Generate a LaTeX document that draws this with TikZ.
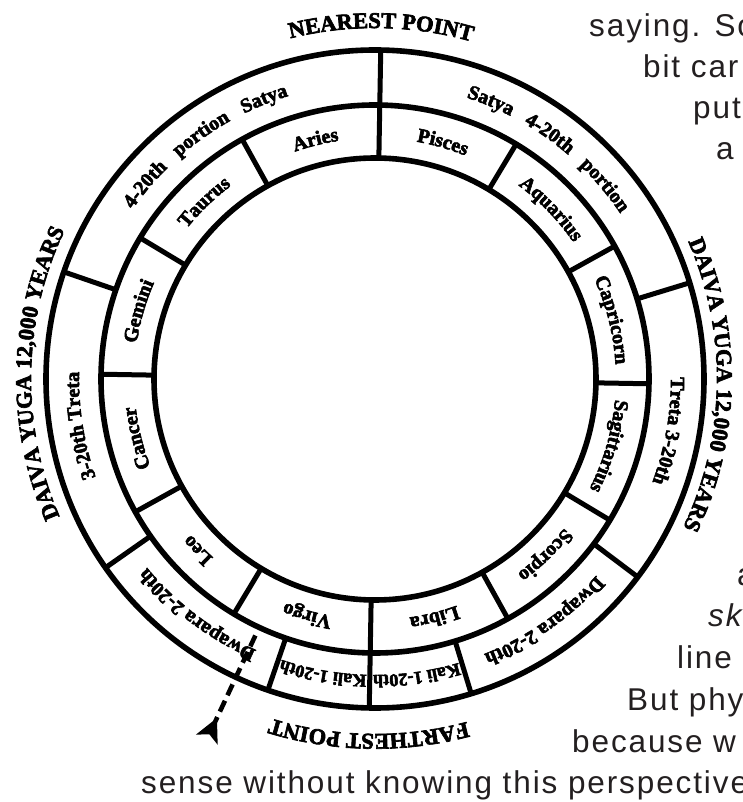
\documentclass[tikz,border=0pt]{standalone}
\usepackage{fontspec}
\setmainfont{Liberation Serif}
\newfontfamily\oldfont[FakeBold=3]{Liberation Serif Bold}
\newfontfamily\bodyfont[LetterSpace=6]{Liberation Sans}
\usetikzlibrary{arrows.meta,decorations.text}
\definecolor{ink}{HTML}{231F20}
\newcommand\signfont{\oldfont\fontsize{20}{20}\selectfont}
\newcommand\kalifont{\oldfont\fontsize{18}{19}\selectfont}
\newcommand\titlefont{\oldfont\fontsize{22.5}{23}\selectfont}
% #2 mid angle, #3 half span, #4 baseline radius; runs clockwise, tops outward
\newcommand\arctext[5][center]{%
  \path[decorate,decoration={text along path,text align=#1,text={#5}}]
    ({#2+#3}:#4) arc[start angle={#2+#3},end angle={#2-#3},radius=#4];}
\tikzset{>=Stealth,
  rim/.style={draw=black,line width=5.6pt},
  spoke/.style={draw=black,line width=5pt},
  pointer/.style={draw=black,line width=4.6pt,dash pattern=on 12pt off 6pt},
  pointerhead/.style={fill=black},
  prose/.style={anchor=base west,inner sep=0pt,text=ink,
    font=\bodyfont\fontsize{31.5}{36}\selectfont}}

\begin{document}
\begin{tikzpicture}[x=1pt,y=1pt]
\useasboundingbox (-375,-423) rectangle (367,379);
\clip (-375,-423) rectangle (367,379);
\begin{scope}[rotate=-1]
\draw[rim] (0,0) circle[radius=329] (0,0) circle[radius=274] (0,0) circle[radius=221];
\foreach \a in {0,30,...,330} \draw[spoke] (\a:221)--(\a:274);
\foreach \a in {18,90,162,216,252,270,288,324} \draw[spoke] (\a:274)--(\a:329);
% signs
\arctext{105}{40}{241}{|\signfont|Aries}
\arctext{135}{40}{241}{|\signfont|Taurus}
\arctext{165}{40}{241}{|\signfont|Gemini}
\arctext{195}{40}{241}{|\signfont|Cancer}
\arctext{225}{40}{241}{|\signfont|Leo}
\arctext{255}{40}{241}{|\signfont|Virgo}
\arctext{285}{40}{241}{|\signfont|Libra}
\arctext{315}{40}{241}{|\signfont|Scorpio}
\arctext{345}{40}{241}{|\signfont|Sagittarius}
\arctext{15}{40}{241}{|\signfont|Capricorn}
\arctext{45}{40}{241}{|\signfont|Aquarius}
\arctext{75}{40}{241}{|\signfont|Pisces}
% ages
\arctext[fit to path stretching spaces]{127}{19}{296}{|\signfont|4-20th portion Satya}
\arctext[fit to path stretching spaces]{54}{19}{296}{|\signfont|Satya 4-20th portion}
\arctext{190}{40}{296}{|\signfont|3-20th Treta}
\arctext{-9}{40}{296}{|\signfont|Treta 3-20th}
\arctext{234}{40}{296}{|\signfont|Dwapara 2-20th}
\arctext{306}{40}{296}{|\signfont|Dwapara 2-20th}
\arctext{261}{40}{296}{|\kalifont|Kali 1-20th}
\arctext{279}{40}{296}{|\kalifont|Kali 1-20th}
\arctext{90}{40}{351}{|\titlefont|NEAREST POINT}
\arctext{180}{40}{344}{|\titlefont|DAIVA YUGA 12,000 YEARS}
\arctext{0}{40}{342}{|\titlefont|DAIVA YUGA 12,000 YEARS}
\arctext{270}{40}{355}{|\titlefont|FARTHEST POINT}
\coordinate (now) at (246:283);\coordinate (tail) at (246:378);
\draw[pointer] (now)--(tail);
\fill[pointerhead,shift={(tail)},rotate=246] (-4,0)--(20,12)--(14,0)--(20,-12)--cycle;
\end{scope}
\node[prose] (l1) at (214,342) {saying. So};
\node[prose] (l2) at (268,301) {bit car};
\node[prose] (l3) at (318,260) {putt};
\node[prose] (l4) at (341,219) {a};
\node[prose] (l5) at (362,-206) {a};
\node[prose,font=\bodyfont\itshape\fontsize{31.5}{36}\selectfont] (l6) at (333,-247) {sk};
\node[prose] (l7) at (302,-289) {line};
\node[prose] (l8) at (252,-331) {But phy};
\node[prose] (l9) at (197,-373) {because w};
\node[prose] (l10) at (-234,-414) {sense without knowing this perspective};
\end{tikzpicture}
\end{document}
